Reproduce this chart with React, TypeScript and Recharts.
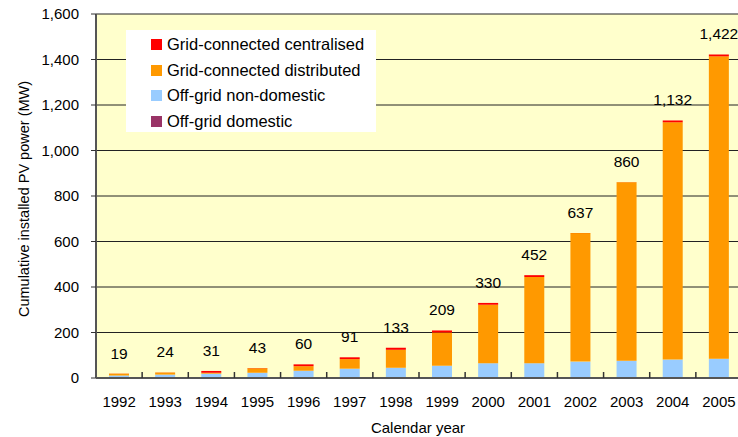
import React from "react";
import { BarChart, Bar, XAxis, YAxis, CartesianGrid, LabelList } from "recharts";

const years = ["1992", "1993", "1994", "1995", "1996", "1997", "1998", "1999", "2000", "2001", "2002", "2003", "2004", "2005"];
const offGridDomestic = [1, 1, 1, 1, 1, 1, 1, 1, 1, 1, 1, 1, 1, 1];
const offGridNonDomestic = [10, 14, 18, 22, 31, 40, 44, 53, 64, 64, 71, 75, 80, 84];
const gridDistributed = [8, 9, 4, 20, 20, 42, 79, 146, 257, 379, 565, 784, 1043, 1329];
const gridCentralised = [0.5, 0.5, 8, 0.5, 8, 8, 9, 9, 8, 8, 0.5, 0.5, 8, 8];
const totals = [19, 24, 31, 43, 60, 91, 133, 209, 330, 452, 637, 860, 1132, 1422];
const yTicks = [0, 200, 400, 600, 800, 1000, 1200, 1400, 1600];

const series = [
  { key: "centralised", name: "Grid-connected centralised", color: "#FF0000" },
  { key: "distributed", name: "Grid-connected distributed", color: "#FF9900" },
  { key: "nonDomestic", name: "Off-grid non-domestic", color: "#99CCFF" },
  { key: "domestic", name: "Off-grid domestic", color: "#993366" },
];

const data = years.map((year, i) => ({
  year,
  domestic: offGridDomestic[i],
  nonDomestic: offGridNonDomestic[i],
  distributed: gridDistributed[i],
  centralised: gridCentralised[i],
  total: totals[i],
}));

const FONT = "'Liberation Sans', Arial, sans-serif";
const fmt = (v: number) => v.toLocaleString("en-US");

const XTick = (props: any) => {
  const { x, y, payload } = props;
  const half = payload && payload.offset ? payload.offset : 23;
  return (
    <g>
      <line x1={x + half} x2={x + half} y1={y} y2={y - 6} stroke="#333" strokeWidth={1.5} />
      <text x={x} y={y + 29} textAnchor="middle" fontSize={15} fontFamily={FONT} fill="#000">
        {payload.value}
      </text>
    </g>
  );
};

const TotalLabel = (props: any) => {
  const { x, y, width, value } = props;
  return (
    <text x={x + width / 2} y={y - 15} textAnchor="middle" fontSize={15.5} fontFamily={FONT} fill="#000">
      {fmt(value)}
    </text>
  );
};

export default function App() {
  return (
    <div style={{ position: "absolute", left: 0, top: 0, width: 738, height: 437, overflow: "hidden", background: "#fff" }}>
      <BarChart width={742} height={437} data={data} margin={{ top: 14, right: 0, left: 0, bottom: 0 }} barCategoryGap={0}>
        <CartesianGrid vertical={false} stroke="#222" fill="#FFFFCC" fillOpacity={1} />
        <XAxis
          dataKey="year"
          height={59}
          tickSize={0}
          tickMargin={0}
          tickLine={false}
          tick={<XTick />}
          interval={0}
          axisLine={{ stroke: "#555", strokeWidth: 2 }}
          label={() => (
            <text x={418} y={433} textAnchor="middle" fontSize={15} fontFamily={FONT} fill="#000">
              Calendar year
            </text>
          )}
        />
        <YAxis
          width={96}
          domain={[0, 1600]}
          ticks={yTicks}
          tickFormatter={fmt}
          tickSize={5}
          tickMargin={12}
          interval={0}
          tick={{ fontSize: 15, fontFamily: FONT, fill: "#000" }}
          tickLine={{ stroke: "#333" }}
          axisLine={{ stroke: "#555", strokeWidth: 2 }}
          label={() => (
            <text x={29} y={199} transform="rotate(-90 29 199)" textAnchor="middle" fontSize={14.5} fontFamily={FONT} fill="#000">
              Cumulative installed PV power (MW)
            </text>
          )}
        />
        <Bar dataKey="domestic" stackId="a" fill="#993366" name="Off-grid domestic" barSize={20} isAnimationActive={false} />
        <Bar dataKey="nonDomestic" stackId="a" fill="#99CCFF" name="Off-grid non-domestic" barSize={20} isAnimationActive={false} />
        <Bar dataKey="distributed" stackId="a" fill="#FF9900" name="Grid-connected distributed" barSize={20} isAnimationActive={false} />
        <Bar dataKey="centralised" stackId="a" fill="#FF0000" name="Grid-connected centralised" barSize={20} isAnimationActive={false}>
          <LabelList dataKey="total" content={<TotalLabel />} />
        </Bar>
      </BarChart>
      <div
        style={{
          position: "absolute",
          left: 126,
          top: 30,
          width: 250,
          height: 102,
          background: "#fff",
          boxSizing: "border-box",
          paddingTop: 2,
          paddingLeft: 25,
          fontFamily: FONT,
          fontSize: 16.5,
        }}
      >
        {series.map((s) => (
          <div key={s.key} style={{ display: "flex", alignItems: "center", height: 25.5 }}>
            <span style={{ display: "inline-block", width: 11, height: 11, background: s.color, marginRight: 5 }} />
            <span style={{ color: "#000" }}>{s.name}</span>
          </div>
        ))}
      </div>
    </div>
  );
}
